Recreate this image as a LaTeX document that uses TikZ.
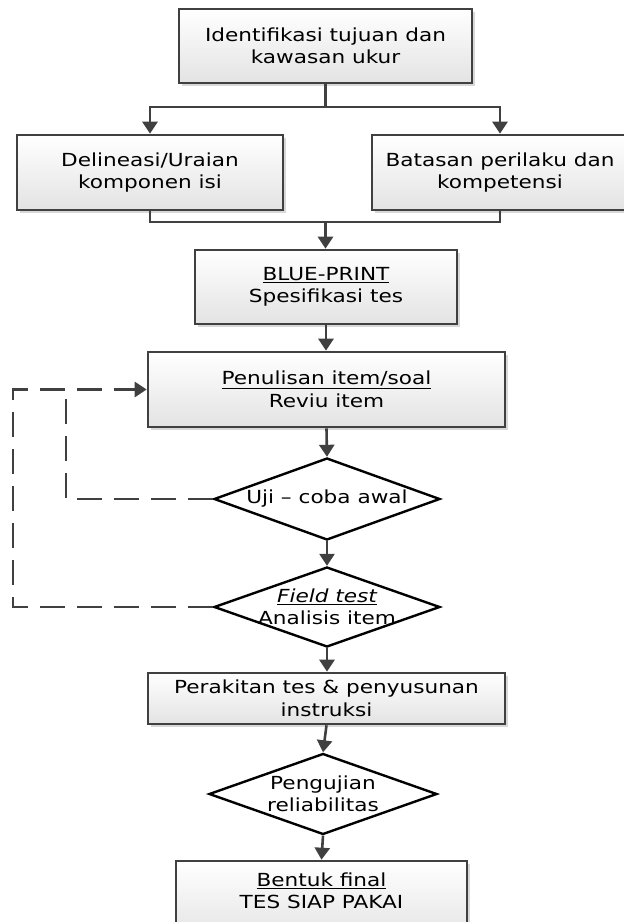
\documentclass[tikz,border=0pt]{standalone}
\usepackage{fontspec}
\setmainfont[FakeStretch=1.2]{DejaVu Sans}
\usetikzlibrary{arrows.meta,shapes.geometric,shadows}
\definecolor{linec}{HTML}{404040}
\tikzset{
  boxnode/.style={draw=linec, line width=2.6pt, top color=white, bottom color=black!11,
    drop shadow={shadow xshift=2.5pt, shadow yshift=-2.5pt, fill=black!30, opacity=0.5},
    align=center, inner sep=0pt, font=\fontsize{18}{22.5}\selectfont},
  dianode/.style={draw=black, line width=2.4pt, fill=white, diamond, inner sep=0pt},
  txt/.style={align=center, inner sep=0pt, font=\fontsize{18}{22.5}\selectfont},
  conn/.style={draw=linec, line width=2.6pt, -{Triangle[length=12pt,width=15pt]}},
  plainconn/.style={draw=linec, line width=2.6pt},
  dashconn/.style={draw=linec, line width=2.6pt, dash pattern=on 25pt off 12pt}
}
\begin{document}
\begin{tikzpicture}[x=1pt,y=-1pt]
\useasboundingbox (0,0) rectangle (624,922);
\clip (0,0) rectangle (624,922);
% boxes
\node[boxnode, minimum width=293pt, minimum height=74pt] (b1) at (325.5,46) {Identifikasi tujuan dan\\kawasan ukur};
\node[boxnode, minimum width=266pt, minimum height=75pt] (b2) at (150,172.5) {Delineasi/Uraian\\komponen isi};
\node[boxnode, minimum width=256pt, minimum height=75pt] (b3) at (500,172.5) {Batasan perilaku dan\\kompetensi};
\node[boxnode, minimum width=262pt, minimum height=74pt] (b4) at (326,287) {\underline{BLUE-PRINT}\\Spesifikasi tes};
\node[boxnode, minimum width=357pt, minimum height=75pt] (b5) at (326.5,389.5) {\underline{Penulisan item/soal}\\Reviu item};
\node[dianode, minimum width=226pt, minimum height=82pt] (d1) at (327,499) {};
\node[txt] (t1) at (d1.center) {Uji – coba awal};
\node[dianode, minimum width=226pt, minimum height=80pt] (d2) at (327,607) {};
\node[txt] (t2) at (d2.center) {\underline{\itshape Field test}\\Analisis item};
\node[boxnode, minimum width=357pt, minimum height=51pt] (b6) at (326.5,698.5) {Perakitan tes \& penyusunan\\instruksi};
\node[dianode, minimum width=228pt, minimum height=81pt] (d3) at (323,794) {};
\node[txt] (t3) at (d3.center) {Pengujian\\reliabilitas};
\node[boxnode, minimum width=291pt, minimum height=80pt] (b7) at (321.5,901) {};
\node[txt] (t7) at (321.5,891) {\underline{Bentuk final}\\TES SIAP PAKAI};
% connectors
\coordinate (split) at (325.5,107);
\coordinate (merge) at (325.5,222);
\draw[plainconn] (b1.south) -- (split);
\draw[conn] (split) -| (b2.north);
\draw[conn] (split) -| (b3.north);
\draw[plainconn] (b2.south) |- (merge);
\draw[plainconn] (b3.south) |- (merge);
\draw[conn] (merge) -- (merge |- b4.north);
\draw[conn] (b4.south) -- (b4.south |- b5.north);
\draw[conn] (b5.south) -- (d1.north);
\draw[conn] (d1.south) -- (d2.north);
\draw[conn] (d2.south) -- (d2.south |- b6.north);
\draw[conn] (b6.south) -- (d3.north);
\draw[conn] (d3.south) -- (b7.north);
% dashed feedback loops
\coordinate (ox) at (13,0);
\coordinate (ix) at (66,0);
\draw[dashconn] (d1.west) -| (ix |- b5.west);
\draw[dashconn, -{Triangle[length=12pt,width=15pt]}] (d2.west) -| (ox |- b5.west) -- (b5.west);
\end{tikzpicture}
\end{document}
